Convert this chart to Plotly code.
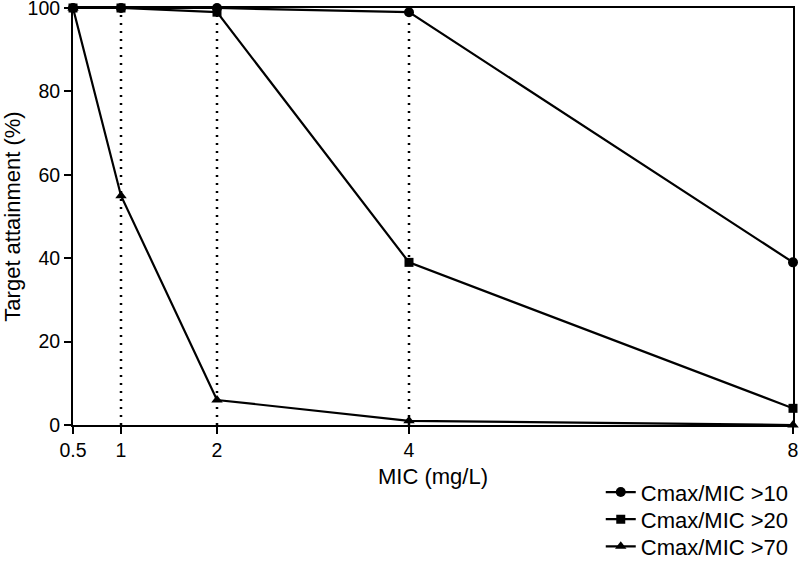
import plotly.graph_objects as go

mic = [0.5, 1, 2, 4, 8]
c10 = [100, 100, 100, 99, 39]
c20 = [100, 100, 99, 39, 4]
c70 = [100, 55, 6, 1, 0]
names = ["Cmax/MIC >10", "Cmax/MIC >20", "Cmax/MIC >70"]
dotted_x = [1, 2, 4]
yticks = [0, 20, 40, 60, 80, 100]

fig = go.Figure()
for xv in dotted_x:
    fig.add_trace(go.Scatter(x=[xv, xv], y=[0, 100], mode="lines",
                             line=dict(color="black", width=2.5, dash="2px,6px"),
                             showlegend=False, hoverinfo="skip"))

legend_ids = ["legend", "legend2", "legend3"]
for vals, name, sym, size, lg in [(c10, names[0], "circle", 10, legend_ids[0]),
                                  (c20, names[1], "square", 9, legend_ids[1]),
                                  (c70, names[2], "triangle-up", 10, legend_ids[2])]:
    fig.add_trace(go.Scatter(x=mic, y=vals, name=name, mode="lines+markers",
                             line=dict(color="black", width=2.2),
                             marker=dict(symbol=sym, size=size, color="black"),
                             cliponaxis=False, legend=lg))

leg_common = dict(x=0.733, xanchor="left", yanchor="top",
                  font=dict(size=22), bgcolor="rgba(0,0,0,0)")

fig.update_layout(
    width=800, height=566,
    margin=dict(l=73, r=7, t=8, b=141, autoexpand=False),
    plot_bgcolor="white", paper_bgcolor="white",
    font=dict(family="Liberation Sans, Arial, sans-serif", size=19.5, color="black"),
    showlegend=True,
    legend=dict(y=-0.111, **leg_common),
    legend2=dict(y=-0.176, **leg_common),
    legend3=dict(y=-0.241, **leg_common),
    xaxis=dict(range=[0.5, 8], tickvals=mic, ticktext=[str(v) for v in mic],
               showline=True, linecolor="black", linewidth=2, mirror=True,
               ticks="outside", ticklen=7, tickwidth=2, tickcolor="black",
               showgrid=False, zeroline=False, automargin=False,
               ticklabeloverflow="allow",
               title=dict(text="MIC (mg/L)", font=dict(size=22), standoff=8)),
    yaxis=dict(range=[0, 100], tickvals=yticks,
               showline=True, linecolor="black", linewidth=2, mirror=True,
               ticks="outside", ticklen=7, tickwidth=2, tickcolor="black",
               showgrid=False, zeroline=False, automargin=False,
               ticklabeloverflow="allow",
               title=dict(text="Target attainment (%)", font=dict(size=22), standoff=6)),
)
fig.write_html("out.html", config={"displayModeBar": False},
               post_script="document.body.style.margin='0';document.body.style.overflow='hidden';")
